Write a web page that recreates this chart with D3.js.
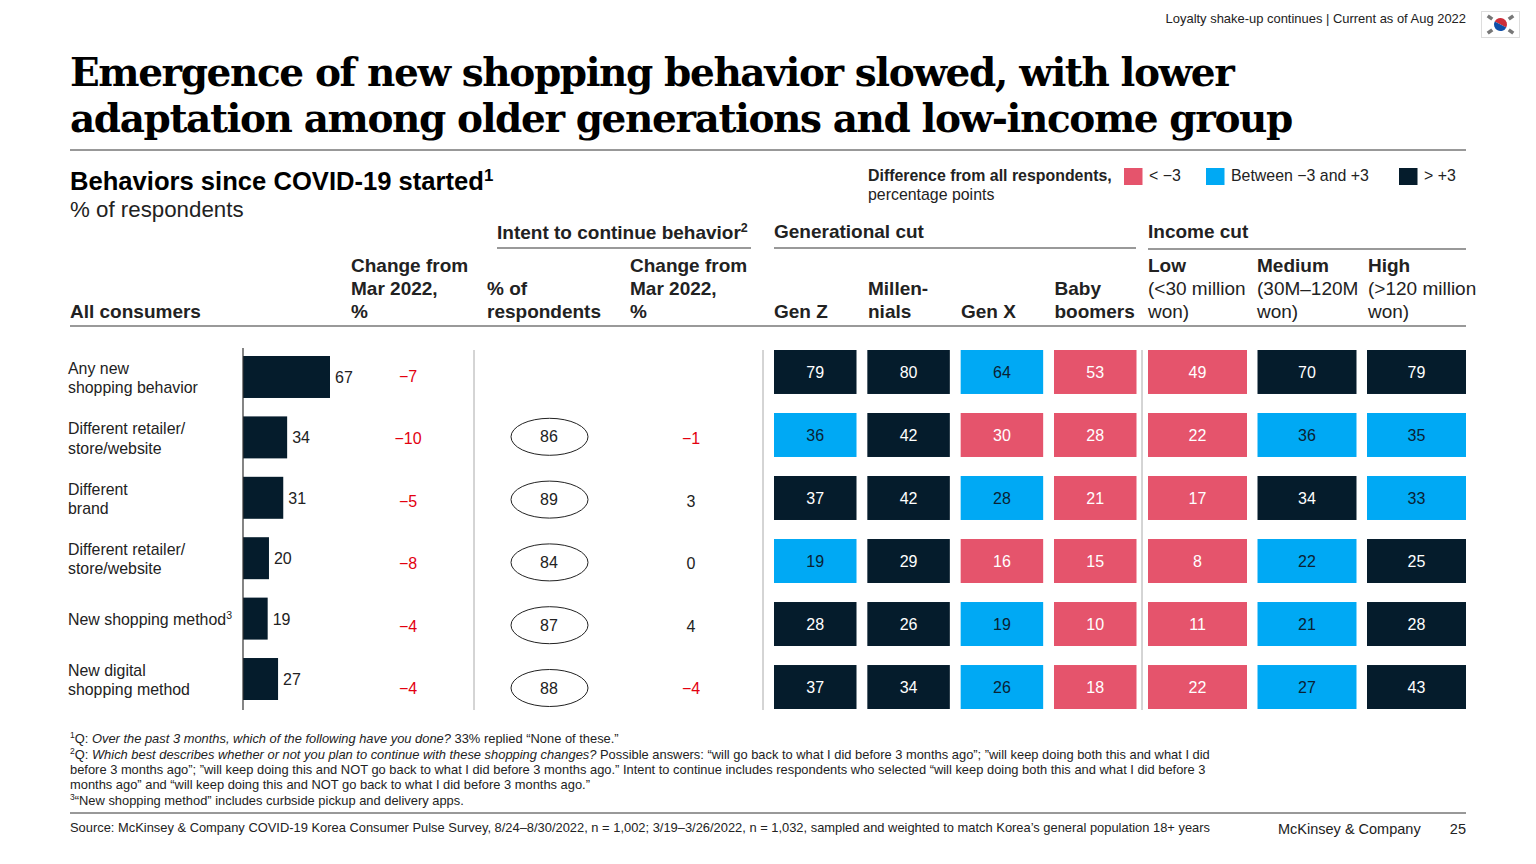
<!DOCTYPE html>
<html>
<head>
<meta charset="utf-8">
<script src="https://cdn.jsdelivr.net/npm/d3@7/dist/d3.min.js"></script>
<style>
  html, body { margin: 0; padding: 0; background: #fff; }
  svg { display: block; }
  text { font-family: "Liberation Sans", Arial, sans-serif; fill: #222; }
</style>
</head>
<body>
<div id="main"></div>
<script>
var categories = [
  ["Any new", "shopping behavior"],
  ["Different retailer/", "store/website"],
  ["Different", "brand"],
  ["Different retailer/", "store/website"],
  ["New shopping method"],
  ["New digital", "shopping method"]
];
var allConsumers = [67, 34, 31, 20, 19, 27];
var changeAll = [-7, -10, -5, -8, -4, -4];
var intentShare = [null, 86, 89, 84, 87, 88];
var intentChange = [null, -1, 3, 0, 4, -4];

var cutNames = ["genZ", "millennials", "genX", "boomers", "low", "medium", "high"];
var genZ = [79, 36, 37, 19, 28, 37];
var millennials = [80, 42, 42, 29, 26, 34];
var genX = [64, 30, 28, 16, 19, 26];
var boomers = [53, 28, 21, 15, 10, 18];
var low = [49, 22, 17, 8, 11, 22];
var medium = [70, 36, 34, 22, 21, 27];
var high = [79, 35, 33, 25, 28, 43];
var cutValues = [genZ, millennials, genX, boomers, low, medium, high];

// difference class per cell, as coloured in the picture: -1 below, 0 between, 1 above
var genZClass = [1, 0, 1, 0, 1, 1];
var millennialsClass = [1, 1, 1, 1, 1, 1];
var genXClass = [0, -1, 0, -1, 0, 0];
var boomersClass = [-1, -1, -1, -1, -1, -1];
var lowClass = [-1, -1, -1, -1, -1, -1];
var mediumClass = [1, 0, 1, 0, 0, 0];
var highClass = [1, 0, 0, 1, 1, 1];
var cutClasses = [genZClass, millennialsClass, genXClass, boomersClass, lowClass, mediumClass, highClass];

var legendLabels = ["< \u22123", "Between \u22123 and +3", "> +3"];

var navy = "#051c2c", cyan = "#00a9f4", pink = "#e5546c", red = "#e3000f";
var color = d3.scaleOrdinal().domain([-1, 0, 1]).range([pink, cyan, navy]);
var cellText = d3.scaleOrdinal().domain([-1, 0, 1]).range(["#fff", "#0a2233", "#fff"]);

var svg = d3.select("#main").append("svg").attr("width", 1536).attr("height", 864);

function fmt(v) { return v < 0 ? "\u2212" + Math.abs(v) : "" + v; }

// text with optional bold / italic / superscript runs
function put(x, y, size, runs, opts) {
  opts = opts || {};
  var t = svg.append("text").attr("x", x).attr("y", y).attr("font-size", size)
    .attr("text-anchor", opts.anchor || "start");
  if (opts.bold) t.attr("font-weight", "bold");
  if (opts.fill) t.style("fill", opts.fill);
  if (opts.family) t.style("font-family", opts.family);
  if (opts.spacing) t.attr("letter-spacing", opts.spacing);
  if (typeof runs === "string") runs = [runs];
  var up = false;
  runs.forEach(function(r) {
    var s = t.append("tspan");
    if (typeof r === "string") {
      s.text(r);
      if (up) { s.attr("dy", size * 0.36); up = false; }
    } else {
      s.text(r.t);
      if (r.i) s.attr("font-style", "italic");
      if (up) { s.attr("dy", size * 0.36); up = false; }
      if (r.sup) { s.attr("font-size", size * 0.66).attr("dy", -size * 0.36); up = true; }
    }
  });
  return t;
}

function rule(x1, x2, y1, y2, stroke, w) {
  svg.append("line").attr("x1", x1).attr("x2", x2).attr("y1", y1).attr("y2", y2)
    .attr("stroke", stroke).attr("stroke-width", w);
}

// top strip
put(1466, 23, 12.95, "Loyalty shake-up continues | Current as of Aug 2022", {anchor: "end"});
drawFlag(1481, 11, 39, 27);

// headline
var serif = "'DejaVu Serif', serif";
put(70, 86, 39, "Emergence of new shopping behavior slowed, with lower", {bold: true, family: serif, fill: "#000", spacing: -1.4});
put(70, 132, 39, "adaptation among older generations and low-income group", {bold: true, family: serif, fill: "#000", spacing: -1.4});
rule(70, 1466, 150, 150, "#333", 1);

// chart heading
put(70, 190, 25.6, ["Behaviors since COVID-19 started", {t: "1", sup: true}], {bold: true, fill: "#000"});
put(70, 217, 22.3, "% of respondents");

// legend
put(868, 181, 15.9, "Difference from all respondents,", {bold: true});
put(868, 200, 15.9, "percentage points");
var legendX = d3.scaleOrdinal().domain([-1, 0, 1]).range([1124, 1206, 1399]);
[-1, 0, 1].forEach(function(k, i) {
  svg.append("rect").attr("x", legendX(k)).attr("y", 168).attr("width", 18.5).attr("height", 17).attr("fill", color(k));
  put(legendX(k) + 25, 181, 15.9, legendLabels[i]);
});

// column headers
var hb = {bold: true};
var hs = 19;
put(497, 239, hs, ["Intent to continue behavior", {t: "2", sup: true}], hb);
put(774, 238, hs, "Generational cut", hb);
put(1148, 238, hs, "Income cut", hb);
rule(497, 751, 248, 248, "#999", 2);
rule(774, 1136, 248, 248, "#999", 2);
rule(1148, 1466, 249, 249, "#999", 2);

put(70, 318, hs, "All consumers", hb);
["Change from", "Mar 2022,", "%"].forEach(function(s, i) { put(351, 272 + i * 23, hs, s, hb); });
["% of", "respondents"].forEach(function(s, i) { put(487, 295 + i * 23, hs, s, hb); });
["Change from", "Mar 2022,", "%"].forEach(function(s, i) { put(630, 272 + i * 23, hs, s, hb); });
put(774, 318, hs, "Gen Z", hb);
put(868, 295, hs, "Millen-", hb); put(868, 318, hs, "nials", hb);
put(961, 318, hs, "Gen X", hb);
put(1054.5, 295, hs, "Baby", hb); put(1054.5, 318, hs, "boomers", hb);
put(1148, 272, hs, "Low", hb); put(1148, 295, hs, "(<30 million"); put(1148, 318, hs, "won)");
put(1257, 272, hs, "Medium", hb); put(1257, 295, hs, "(30M\u2013120M"); put(1257, 318, hs, "won)");
put(1368, 272, hs, "High", hb); put(1368, 295, hs, "(>120 million"); put(1368, 318, hs, "won)");
rule(70, 1466, 326, 326, "#999", 2);

// rows
var rowIdx = d3.range(categories.length);
var barY = d3.scaleBand().domain(rowIdx).range([356, 700]).paddingInner(0.305).paddingOuter(0);
var barX = d3.scaleLinear().domain([0, 67]).range([243, 330]);
var cellY = d3.scaleBand().domain(rowIdx).range([350, 709]).paddingInner(0.302).paddingOuter(0);
var midY = d3.scalePoint().domain(rowIdx).range([376.5, 688.5]);

// all consumers bars
svg.selectAll(".bar").data(allConsumers).enter().append("rect")
  .attr("class", "bar")
  .attr("x", barX(0))
  .attr("y", function(d, i) { return barY(i); })
  .attr("width", function(d) { return barX(d) - barX(0); })
  .attr("height", barY.bandwidth())
  .attr("fill", navy);

svg.selectAll(".barLabel").data(allConsumers).enter().append("text")
  .attr("class", "barLabel")
  .attr("x", function(d) { return barX(d) + 5; })
  .attr("y", function(d, i) { return barY(i) + barY.bandwidth() / 2 + 6; })
  .attr("font-size", 16)
  .text(function(d) { return d; });

rule(243, 243, 348, 710, "#333", 1.2);
rule(474, 474, 350, 710, "#aaa", 1);
rule(763, 763, 350, 710, "#aaa", 1);
rule(1142, 1142, 350, 710, "#aaa", 1);

// row labels
categories.forEach(function(lines, i) {
  var c = barY(i) + barY.bandwidth() / 2;
  lines.forEach(function(s, j) {
    var y = c + 6.5 + (j - (lines.length - 1) / 2) * 19.5;
    if (i === 4) put(68, y, 15.9, [s, {t: "3", sup: true}]);
    else put(68, y, 15.9, s);
  });
});

// change columns
svg.selectAll(".chg").data(changeAll).enter().append("text")
  .attr("class", "chg")
  .attr("x", 408)
  .attr("y", function(d, i) { return midY(i) + 5.5; })
  .attr("text-anchor", "middle")
  .attr("font-size", 16)
  .style("fill", red)
  .text(fmt);

var ovalY = d3.scalePoint().domain(rowIdx).range([374, 688]);
var intentRows = rowIdx.filter(function(i) { return intentShare[i] !== null; });
svg.selectAll(".oval").data(intentRows).enter().append("ellipse")
  .attr("class", "oval")
  .attr("cx", 549.5).attr("cy", function(i) { return ovalY(i); })
  .attr("rx", 38.5).attr("ry", 18.5)
  .attr("fill", "#fff").attr("stroke", "#222").attr("stroke-width", 1);
svg.selectAll(".ovalText").data(intentRows).enter().append("text")
  .attr("class", "ovalText")
  .attr("x", 549).attr("y", function(i) { return ovalY(i) + 5.5; })
  .attr("text-anchor", "middle").attr("font-size", 16)
  .text(function(i) { return intentShare[i]; });
svg.selectAll(".intChg").data(intentRows).enter().append("text")
  .attr("class", "intChg")
  .attr("x", 691).attr("y", function(i) { return midY(i) + 5.5; })
  .attr("text-anchor", "middle").attr("font-size", 16)
  .style("fill", function(i) { return intentChange[i] < 0 ? red : "#222"; })
  .text(function(i) { return fmt(intentChange[i]); });

// heat columns
var genX0 = d3.scaleBand().domain(cutNames.slice(0, 4)).range([774, 1136.5]).paddingInner(0.116).paddingOuter(0);
var incX0 = d3.scaleBand().domain(cutNames.slice(4)).range([1148, 1466]).paddingInner(0.096).paddingOuter(0);
function colX(name) { return genX0.domain().indexOf(name) >= 0 ? genX0(name) : incX0(name); }
function colW(name) { return genX0.domain().indexOf(name) >= 0 ? genX0.bandwidth() : incX0.bandwidth(); }

cutNames.forEach(function(name, c) {
  var g = svg.append("g").attr("class", "cut-" + name);
  var cells = g.selectAll("g").data(cutValues[c]).enter().append("g");
  cells.append("rect")
    .attr("x", colX(name)).attr("y", function(d, i) { return cellY(i); })
    .attr("width", colW(name)).attr("height", cellY.bandwidth())
    .attr("fill", function(d, i) { return color(cutClasses[c][i]); });
  cells.append("text")
    .attr("x", colX(name) + colW(name) / 2)
    .attr("y", function(d, i) { return cellY(i) + cellY.bandwidth() / 2 + 6; })
    .attr("text-anchor", "middle").attr("font-size", 16)
    .style("fill", function(d, i) { return cellText(cutClasses[c][i]); })
    .text(function(d) { return d; });
});

// footnotes
var fs = 12.9;
put(70, 743, fs, [{t: "1", sup: true}, "Q: ", {t: "Over the past 3 months, which of the following have you done?", i: true}, " 33% replied \u201cNone of these.\u201d"]);
put(70, 759, fs, [{t: "2", sup: true}, "Q: ", {t: "Which best describes whether or not you plan to continue with these shopping changes?", i: true}, " Possible answers: \u201cwill go back to what I did before 3 months ago\u201d; \u201dwill keep doing both this and what I did"]);
put(70, 774, fs, "before 3 months ago\u201d; \u201dwill keep doing this and NOT go back to what I did before 3 months ago.\u201d Intent to continue includes respondents who selected \u201cwill keep doing both this and what I did before 3");
put(70, 789, fs, "months ago\u201d and \u201cwill keep doing this and NOT go back to what I did before 3 months ago.\u201d");
put(70, 805, fs, [{t: "3", sup: true}, "\u201cNew shopping method\u201d includes curbside pickup and delivery apps."]);
rule(70, 1466, 813, 813, "#333", 1);
put(70, 832, fs, "Source: McKinsey & Company COVID-19 Korea Consumer Pulse Survey, 8/24\u20138/30/2022, n = 1,002; 3/19\u20133/26/2022, n = 1,032, sampled and weighted to match Korea\u2019s general population 18+ years");
put(1278, 834, 14.5, "McKinsey & Company");
put(1466, 834, 14.5, "25", {anchor: "end"});

function drawFlag(x, y, w, h) {
  var g = svg.append("g").attr("transform", "translate(" + x + "," + y + ")");
  g.append("rect").attr("x", 0.5).attr("y", 0.5).attr("width", w - 1).attr("height", h - 1)
    .attr("fill", "#fff").attr("stroke", "#ddd");
  var cx = w / 2, cy = h / 2, r = 6.5;
  g.append("path").attr("d", d3.arc()({innerRadius: 0, outerRadius: r, startAngle: -1.1, endAngle: -1.1 + Math.PI}))
    .attr("transform", "translate(" + cx + "," + cy + ")").attr("fill", "#cd2e3a");
  g.append("path").attr("d", d3.arc()({innerRadius: 0, outerRadius: r, startAngle: -1.1 + Math.PI, endAngle: -1.1 + 2 * Math.PI}))
    .attr("transform", "translate(" + cx + "," + cy + ")").attr("fill", "#0f4fa8");
  [[-10.5, -7, 35], [10.5, -7, -35], [-10.5, 7, -35], [10.5, 7, 35]].forEach(function(t) {
    g.append("rect").attr("x", -2.8).attr("y", -1.8).attr("width", 5.6).attr("height", 3.6)
      .attr("transform", "translate(" + (cx + t[0]) + "," + (cy + t[1]) + ") rotate(" + t[2] + ")")
      .attr("fill", "#777");
  });
}
</script>
</body>
</html>
